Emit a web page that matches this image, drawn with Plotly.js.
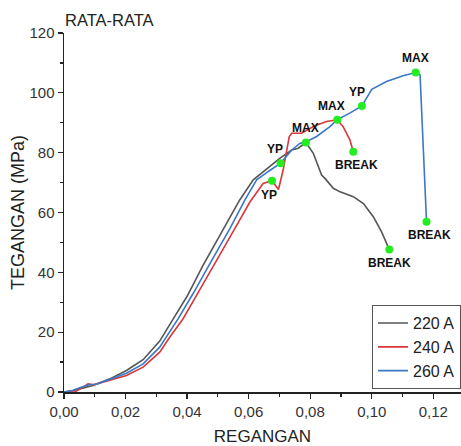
<!DOCTYPE html>
<html>
<head>
<meta charset="utf-8">
<script src="https://cdn.plot.ly/plotly-3.0.1.min.js"></script>
<style>html,body{margin:0;padding:0;background:#fff}#chart{width:461px;height:446px}</style>
</head>
<body>
<div id="chart"></div>
<script>
// 220 A
const x220 = [0, 0.003, 0.006, 0.0094, 0.0149, 0.0203, 0.0257, 0.0311, 0.0354, 0.04, 0.045, 0.0507, 0.0571, 0.0615, 0.0669, 0.0701, 0.0740, 0.0761, 0.0786, 0.081, 0.0837, 0.0848, 0.0875, 0.0897, 0.094, 0.0973, 0.1005, 0.1032, 0.1057];
const y220 = [0, 0.5, 1.3, 2.2, 4.4, 7.2, 10.8, 17.0, 24.3, 32.0, 42.0, 52.5, 64.2, 70.9, 75.3, 78.1, 80.9, 81.5, 83.4, 79.8, 72.5, 71.4, 68.1, 66.9, 65.3, 63.0, 58.6, 53.5, 47.6];
// 240 A
const x240 = [0, 0.0035, 0.0055, 0.0078, 0.0095, 0.0149, 0.0203, 0.0257, 0.0311, 0.0344, 0.0387, 0.044, 0.05, 0.0555, 0.0604, 0.0647, 0.0676, 0.0697, 0.0712, 0.0723, 0.0732, 0.0740, 0.0772, 0.0815, 0.0853, 0.0888, 0.0907, 0.0929, 0.094];
const y240 = [0, 0, 1.2, 2.7, 2.4, 3.9, 5.5, 8.3, 13.3, 18.4, 24.5, 34.0, 45.0, 54.6, 63.5, 69.7, 70.6, 67.7, 74.2, 79.8, 85.4, 86.5, 86.5, 89.0, 90.4, 91.0, 88.7, 84.3, 80.3];
// 260 A
const x260 = [0, 0.003, 0.0051, 0.0084, 0.0105, 0.0149, 0.0203, 0.0257, 0.0311, 0.0371, 0.042, 0.048, 0.0539, 0.0588, 0.0626, 0.0665, 0.0704, 0.074, 0.0766, 0.0786, 0.0821, 0.0864, 0.0888, 0.093, 0.0968, 0.1, 0.1048, 0.1102, 0.1143, 0.1157, 0.1178];
const y260 = [0, 0.6, 1.4, 2.5, 2.6, 4.3, 6.3, 9.4, 15.0, 24.5, 33.0, 44.0, 54.6, 64.2, 70.9, 73.8, 76.5, 80.9, 83.1, 83.6, 85.4, 88.7, 91.0, 93.3, 95.6, 101.2, 103.8, 105.7, 106.8, 106.0, 56.9];

const seriesNames = ['220 A', '240 A', '260 A'];

// key points (yield point, maximum, break)
const pointX = [0.0676, 0.0704, 0.0786, 0.0888, 0.094, 0.0968, 0.1143, 0.1178, 0.1057];
const pointY = [70.6, 76.5, 83.4, 91.0, 80.3, 95.6, 106.8, 56.9, 47.6];
const pointLabel = ['YP', 'YP', 'MAX', 'MAX', 'BREAK', 'YP', 'MAX', 'BREAK', 'BREAK'];

const xTickVals = [0, 0.02, 0.04, 0.06, 0.08, 0.10, 0.12];
const xTickText = ['0,00', '0,02', '0,04', '0,06', '0,08', '0,10', '0,12'];
const yTickVals = [0, 20, 40, 60, 80, 100, 120];

// label placement (style only)
const labelStyle = [
  {xanchor: 'center', yanchor: 'top', xs: -3, ys: -5},
  {xanchor: 'right', yanchor: 'bottom', xs: 4, ys: 5},
  {xanchor: 'center', yanchor: 'bottom', xs: 0, ys: 5},
  {xanchor: 'right', yanchor: 'bottom', xs: 10, ys: 5},
  {xanchor: 'center', yanchor: 'top', xs: 3, ys: -4},
  {xanchor: 'right', yanchor: 'bottom', xs: 5, ys: 5},
  {xanchor: 'center', yanchor: 'bottom', xs: 0, ys: 5},
  {xanchor: 'center', yanchor: 'top', xs: 3, ys: -4},
  {xanchor: 'center', yanchor: 'top', xs: 0, ys: -4}
];

const FONT = 'Arial, "Liberation Sans", sans-serif';
const colors = ['#555555', '#d9363a', '#3a78c6'];

const traces = [
  {x: x220, y: y220, name: seriesNames[0], mode: 'lines', line: {color: colors[0], width: 1.6}},
  {x: x240, y: y240, name: seriesNames[1], mode: 'lines', line: {color: colors[1], width: 1.6}},
  {x: x260, y: y260, name: seriesNames[2], mode: 'lines', line: {color: colors[2], width: 1.6}},
  {x: pointX, y: pointY, mode: 'markers', showlegend: false, hoverinfo: 'skip',
   marker: {color: '#22ee22', size: 8}}
];

const annotations = pointLabel.map((t, i) => ({
  x: pointX[i], y: pointY[i], text: '<b>' + t + '</b>', showarrow: false,
  xanchor: labelStyle[i].xanchor, yanchor: labelStyle[i].yanchor,
  xshift: labelStyle[i].xs, yshift: labelStyle[i].ys,
  font: {family: FONT, size: 12, color: '#111'}
}));

const layout = {
  width: 461, height: 446,
  margin: {l: 64, r: 0, t: 33, b: 54},
  paper_bgcolor: '#fff', plot_bgcolor: '#fff',
  font: {family: FONT, color: '#222'},
  title: {text: 'RATA-RATA', x: 65/461, xanchor: 'left', y: 1 - 20/446, yanchor: 'middle',
          font: {family: FONT, size: 16.5, color: '#222'}},
  xaxis: {
    range: [0, 0.129], showgrid: false, zeroline: false,
    showline: true, linecolor: '#222', linewidth: 1.5, mirror: false,
    ticks: 'outside', ticklen: 5, tickwidth: 1.3, tickcolor: '#222',
    tickvals: xTickVals, ticktext: xTickText,
    tickfont: {family: FONT, size: 15, color: '#333'},
    minor: {ticks: 'outside', ticklen: 3, tickwidth: 1.2, tickcolor: '#222', dtick: 0.01, tick0: 0, showgrid: false},
    title: {text: 'REGANGAN', standoff: 12, font: {family: FONT, size: 17, color: '#222'}}
  },
  yaxis: {
    range: [0, 120], showgrid: false, zeroline: false,
    showline: true, linecolor: '#222', linewidth: 1.5,
    ticks: 'outside', ticklen: 5, tickwidth: 1.3, tickcolor: '#222',
    tickvals: yTickVals,
    tickfont: {family: FONT, size: 15, color: '#333'},
    minor: {ticks: 'outside', ticklen: 3, tickwidth: 1.2, tickcolor: '#222', dtick: 10, tick0: 0, showgrid: false},
    title: {text: 'TEGANGAN (MPa)', standoff: 0, font: {family: FONT, size: 18, color: '#222'}}
  },
  legend: {
    x: 1.0, xanchor: 'right', y: 0.008, yanchor: 'bottom',
    bgcolor: '#fff', bordercolor: '#555', borderwidth: 1,
    font: {family: FONT, size: 16, color: '#222'},
    tracegroupgap: 0, itemwidth: 30
  },
  annotations: annotations,
  showlegend: true
};

Plotly.newPlot('chart', traces, layout, {staticPlot: true, displayModeBar: false});
</script>
</body>
</html>
